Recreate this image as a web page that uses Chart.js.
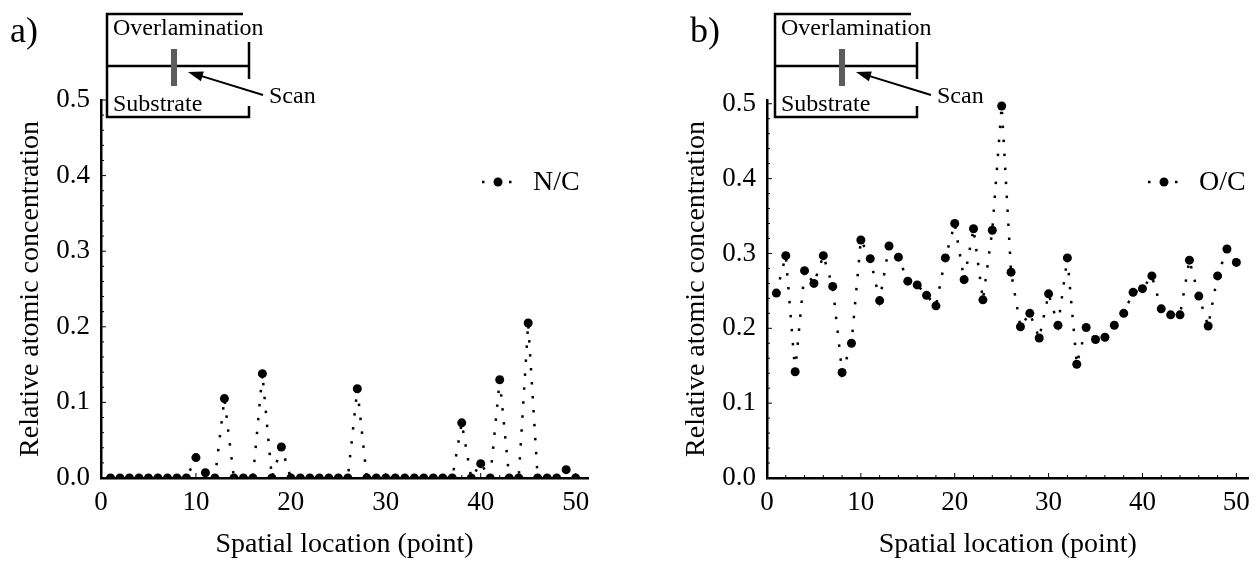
<!DOCTYPE html>
<html>
<head>
<meta charset="utf-8">
<script src="https://cdn.jsdelivr.net/npm/chart.js@4.4.1/dist/chart.umd.min.js"></script>
<style>
  html, body { margin: 0; padding: 0; background: #fff; }
  .panel { position: absolute; top: 0; height: 561px; }
  #panelA { left: 0; width: 630px; }
  #panelB { left: 630px; width: 629px; }
</style>
</head>
<body>
<div class="panel" id="panelA"><canvas id="chartA"></canvas></div>
<div class="panel" id="panelB"><canvas id="chartB"></canvas></div>
<script>
// spatial scan positions (points along the scan line)
const positions = [1, 2, 3, 4, 5, 6, 7, 8, 9, 10,
  11, 12, 13, 14, 15, 16, 17, 18, 19, 20,
  21, 22, 23, 24, 25, 26, 27, 28, 29, 30,
  31, 32, 33, 34, 35, 36, 37, 38, 39, 40,
  41, 42, 43, 44, 45, 46, 47, 48, 49, 50];

// a) N/C ratio
const nitrogenRatio = [0, 0, 0, 0, 0, 0, 0, 0, 0, 0.027,
  0.007, 0, 0.105, 0, 0, 0, 0.138, 0, 0.041, 0,
  0, 0, 0, 0, 0, 0, 0.118, 0, 0, 0,
  0, 0, 0, 0, 0, 0, 0, 0.073, 0, 0.019,
  0, 0.130, 0, 0, 0.205, 0, 0, 0, 0.011, 0];

// b) O/C ratio
const oxygenRatio = [0.247, 0.297, 0.142, 0.277, 0.260, 0.297, 0.256, 0.141, 0.180, 0.318,
  0.293, 0.237, 0.310, 0.295, 0.263, 0.258, 0.244, 0.230, 0.294, 0.340,
  0.265, 0.333, 0.238, 0.331, 0.497, 0.275, 0.202, 0.220, 0.187, 0.246,
  0.204, 0.294, 0.152, 0.201, 0.185, 0.188, 0.204, 0.220, 0.248, 0.253,
  0.270, 0.226, 0.218, 0.218, 0.291, 0.243, 0.203, 0.270, 0.306, 0.288];

const xTickValues = [0, 10, 20, 30, 40, 50];
const yTickValues = [0, 0.1, 0.2, 0.3, 0.4, 0.5];

const SERIF = '"Liberation Serif", "Times New Roman", serif';

// inset sketch, legend, panel letter and inner minor ticks
const decorPlugin = {
  id: 'decor',
  afterDraw(chart, args, o) {
    const ctx = chart.ctx;
    const xs = chart.scales.x, ys = chart.scales.y;
    const area = chart.chartArea;
    ctx.save();

    // small inward ticks
    ctx.strokeStyle = '#000';
    ctx.lineWidth = 1;
    ctx.beginPath();
    for (let v = 2; v <= 50; v += 2) {
      const px = xs.getPixelForValue(v);
      const len = v % 10 === 0 ? 5 : 3;
      ctx.moveTo(px, area.bottom);
      ctx.lineTo(px, area.bottom - len);
    }
    for (let k = 1; k <= 25; k++) {
      const py = ys.getPixelForValue(k * 0.02);
      const len = k % 5 === 0 ? 5 : 3;
      ctx.moveTo(area.left, py);
      ctx.lineTo(area.left + len, py);
    }
    ctx.stroke();

    // panel letter
    ctx.fillStyle = '#000';
    ctx.font = '36px ' + SERIF;
    ctx.textBaseline = 'alphabetic';
    ctx.fillText(o.letter, o.letterX, 42);

    // inset: overlamination / substrate sketch
    const bx = o.boxX;
    ctx.lineWidth = 2.5;
    ctx.strokeStyle = '#000';
    ctx.beginPath();
    ctx.moveTo(bx + 136, 14); ctx.lineTo(bx, 14); ctx.lineTo(bx, 117); ctx.lineTo(bx + 142, 117); ctx.lineTo(bx + 142, 106);
    ctx.moveTo(bx + 142, 42); ctx.lineTo(bx + 142, 79);
    ctx.moveTo(bx, 66); ctx.lineTo(bx + 142, 66);
    ctx.stroke();
    ctx.fillStyle = '#5c5c5c';
    ctx.fillRect(bx + 64, 49, 6, 37);

    // arrow to scan bar
    const hx = bx + 81, hy = 72, tx = bx + 156, ty = 95;
    ctx.strokeStyle = '#000';
    ctx.lineWidth = 2;
    ctx.beginPath();
    ctx.moveTo(tx, ty); ctx.lineTo(hx + 8, hy + 2.4);
    ctx.stroke();
    const ang = Math.atan2(hy - ty, hx - tx);
    ctx.fillStyle = '#000';
    ctx.beginPath();
    ctx.moveTo(hx, hy);
    ctx.lineTo(hx - 15 * Math.cos(ang) + 5 * Math.sin(ang), hy - 15 * Math.sin(ang) - 5 * Math.cos(ang));
    ctx.lineTo(hx - 15 * Math.cos(ang) - 5 * Math.sin(ang), hy - 15 * Math.sin(ang) + 5 * Math.cos(ang));
    ctx.closePath();
    ctx.fill();

    ctx.font = '24px ' + SERIF;
    ctx.fillText('Overlamination', bx + 6, 35);
    ctx.fillText('Substrate', bx + 6, 111);
    ctx.fillText('Scan', bx + 162, 103);

    // legend
    const lx = o.legendX, ly = 182;
    ctx.fillRect(lx - 16, ly - 1.25, 2.5, 2.5);
    ctx.fillRect(lx + 11, ly - 1.25, 2.5, 2.5);
    ctx.beginPath();
    ctx.arc(lx, ly, 4.5, 0, Math.PI * 2);
    ctx.fill();
    ctx.font = '28px ' + SERIF;
    ctx.textBaseline = 'middle';
    ctx.fillText(o.legendText, lx + 35, ly + 1);
    ctx.restore();
  }
};

function makeChart(canvasId, values, cfg) {
  const points = positions.map((p, i) => ({ x: p, y: values[i] }));
  return new Chart(document.getElementById(canvasId), {
    type: 'line',
    data: {
      datasets: [{
        label: cfg.legendText,
        data: points,
        borderColor: '#000',
        borderWidth: 2.5,
        borderDash: [2.5, 11.5],
        borderCapStyle: 'butt',
        tension: 0,
        pointRadius: 4.5,
        pointBackgroundColor: '#000',
        pointBorderWidth: 0,
        clip: { left: 0, bottom: 0, top: false, right: false }
      }]
    },
    options: {
      animation: false,
      responsive: true,
      maintainAspectRatio: false,
      layout: { padding: { left: cfg.padLeft, right: cfg.padRight, top: cfg.padTop, bottom: 0 } },
      plugins: {
        legend: { display: false },
        tooltip: { enabled: false },
        decor: cfg
      },
      scales: {
        x: {
          type: 'linear',
          min: 0,
          max: 51.3,
          afterFit: s => { s.height = 83; },
          afterBuildTicks: s => { s.ticks = xTickValues.map(v => ({ value: v })); },
          grid: { display: true, drawOnChartArea: false, drawTicks: false, color: 'rgba(0,0,0,0)' },
          border: { display: true, color: '#000', width: 2.5 },
          ticks: { color: '#000', padding: 9, maxRotation: 0, font: { family: SERIF, size: 27 } },
          title: {
            display: true,
            text: 'Spatial location (point)',
            color: '#000',
            padding: { top: 0, bottom: 0 },
            font: { family: SERIF, size: 28 }
          }
        },
        y: {
          type: 'linear',
          min: 0,
          max: cfg.yMax,
          afterFit: s => { s.width = 101; },
          afterBuildTicks: s => { s.ticks = yTickValues.map(v => ({ value: v })); },
          grid: { display: true, drawOnChartArea: false, drawTicks: false, color: 'rgba(0,0,0,0)' },
          border: { display: true, color: '#000', width: 2.5 },
          ticks: { color: '#000', padding: 11, font: { family: SERIF, size: 27 }, callback: v => v.toFixed(1) },
          title: {
            display: true,
            text: 'Relative atomic concentration',
            color: '#000',
            padding: { top: 14, bottom: 0 },
            font: { family: SERIF, size: 28 }
          }
        }
      }
    },
    plugins: [decorPlugin]
  });
}

makeChart('chartA', nitrogenRatio, {
  letter: 'a)', letterX: 10, boxX: 107, legendX: 498, legendText: 'N/C',
  padLeft: 0, padRight: 42, padTop: 100, yMax: 0.5
});

makeChart('chartB', oxygenRatio, {
  letter: 'b)', letterX: 60, boxX: 145, legendX: 534, legendText: 'O/C',
  padLeft: 36, padRight: 6, padTop: 100, yMax: 0.505
});
</script>
</body>
</html>
